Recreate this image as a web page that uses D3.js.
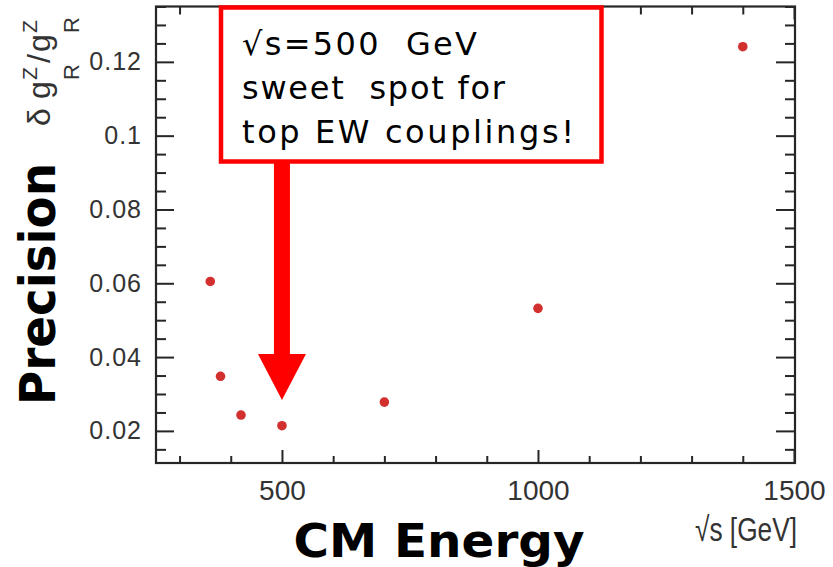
<!DOCTYPE html>
<html>
<head>
<meta charset="utf-8">
<script src="https://cdn.jsdelivr.net/npm/d3@7"></script>
<style>
  body { margin: 0; background: #fff; }
  svg { display: block; }
</style>
</head>
<body>
<div id="viz"></div>
<script>
  // energies in GeV and precision on the right-handed Z coupling
  const energies = [360, 380, 420, 500, 700, 1000, 1400];
  const precision = [0.0605, 0.0348, 0.0243, 0.0214, 0.0278, 0.0532, 0.1241];

  const xTicks = [500, 1000, 1500];
  const xTickLabels = ['500', '1000', '1500'];
  const yTicks = [0.02, 0.04, 0.06, 0.08, 0.1, 0.12];
  const yTickLabels = ['0.02', '0.04', '0.06', '0.08', '0.1', '0.12'];

  const noteLines = ['\u221As=500\u00A0 GeV', 'sweet\u00A0 spot for', 'top EW couplings!'];

  const width = 833, height = 567;
  const frame = { left: 156, right: 795, top: 6.5, bottom: 463 };

  const svg = d3.select('#viz')
    .append('svg')
    .attr('width', width)
    .attr('height', height);

  const x = d3.scaleLinear()
    .domain([254, 1500])
    .range([frame.left, frame.right - 1]);

  const y = d3.scaleLinear()
    .domain([0.0113, 0.135])
    .range([frame.bottom, frame.top]);

  const xMinor = d3.range(300, 1501, 100).filter(v => v % 500 !== 0);
  const yMinor = d3.range(0.015, 0.136, 0.005)
    .filter(v => Math.abs(v / 0.02 - Math.round(v / 0.02)) > 0.01);

  const ink = '#262626';
  const helv = '"Liberation Sans", Arial, sans-serif';

  function styleAxis(g) {
    g.select('.domain').remove();
    g.selectAll('line').attr('stroke', ink).attr('stroke-width', 2);
    g.selectAll('text')
      .attr('fill', '#333')
      .style('font-family', helv);
  }

  // bottom axis
  svg.append('g')
    .attr('transform', `translate(0,${frame.bottom})`)
    .call(d3.axisBottom(x).tickValues(xTicks).tickSizeInner(-13).tickSizeOuter(0).tickPadding(17)
      .tickFormat((d, i) => xTickLabels[i]))
    .call(styleAxis)
    .call(g => g.selectAll('text').style('font-size', '28px'));

  svg.append('g')
    .attr('transform', `translate(0,${frame.bottom})`)
    .call(d3.axisBottom(x).tickValues(xMinor).tickSizeInner(-7).tickSizeOuter(0).tickFormat(''))
    .call(styleAxis);

  // top axis (mirror ticks)
  svg.append('g')
    .attr('transform', `translate(0,${frame.top})`)
    .call(d3.axisTop(x).tickValues(xTicks).tickSizeInner(-13).tickSizeOuter(0).tickFormat(''))
    .call(styleAxis);

  svg.append('g')
    .attr('transform', `translate(0,${frame.top})`)
    .call(d3.axisTop(x).tickValues(xMinor).tickSizeInner(-8).tickSizeOuter(0).tickFormat(''))
    .call(styleAxis);

  // left axis
  svg.append('g')
    .attr('transform', `translate(${frame.left},0)`)
    .call(d3.axisLeft(y).tickValues(yTicks).tickSizeInner(-18).tickSizeOuter(0).tickPadding(14)
      .tickFormat((d, i) => yTickLabels[i]))
    .call(styleAxis)
    .call(g => g.selectAll('text').style('font-size', '25px').style('letter-spacing', '1px'));

  svg.append('g')
    .attr('transform', `translate(${frame.left},0)`)
    .call(d3.axisLeft(y).tickValues(yMinor).tickSizeInner(-10).tickSizeOuter(0).tickFormat(''))
    .call(styleAxis);

  // right axis (mirror ticks)
  svg.append('g')
    .attr('transform', `translate(${frame.right},0)`)
    .call(d3.axisRight(y).tickValues(yTicks).tickSizeInner(-19).tickSizeOuter(0).tickFormat(''))
    .call(styleAxis);

  svg.append('g')
    .attr('transform', `translate(${frame.right},0)`)
    .call(d3.axisRight(y).tickValues(yMinor).tickSizeInner(-10).tickSizeOuter(0).tickFormat(''))
    .call(styleAxis);

  // frame
  svg.append('rect')
    .attr('x', frame.left)
    .attr('y', frame.top)
    .attr('width', frame.right - frame.left)
    .attr('height', frame.bottom - frame.top)
    .attr('fill', 'none')
    .attr('stroke', ink)
    .attr('stroke-width', 2.2);

  // points
  svg.append('g')
    .selectAll('circle')
    .data(energies.map((e, i) => ({ e, p: precision[i] })))
    .join('circle')
    .attr('cx', d => x(d.e))
    .attr('cy', d => y(d.p))
    .attr('r', 4.8)
    .attr('fill', '#d2302f');

  // x axis title (plot)
  svg.append('text')
    .attr('x', 797)
    .attr('y', 541)
    .attr('text-anchor', 'end')
    .attr('textLength', 102)
    .attr('lengthAdjust', 'spacingAndGlyphs')
    .style('font-family', helv)
    .style('font-size', '34px')
    .attr('fill', '#333')
    .text('\u221As [GeV]');

  // y axis title (plot)
  const yt = svg.append('text')
    .attr('transform', 'translate(50,126) rotate(-90)')
    .attr('fill', '#333')
    .style('font-family', helv)
    .style('font-size', '32px');
  yt.append('tspan').attr('x', 0).attr('y', 0).text('\u03B4');
  yt.append('tspan').attr('x', 27).attr('y', 0).text('g');
  yt.append('tspan').attr('x', 46).attr('y', -13).style('font-size', '21px').text('Z');
  yt.append('tspan').attr('x', 46).attr('y', 29).style('font-size', '22px').text('R');
  yt.append('tspan').attr('x', 63).attr('y', 0).text('/');
  yt.append('tspan').attr('x', 74).attr('y', 0).text('g');
  yt.append('tspan').attr('x', 93).attr('y', -13).style('font-size', '21px').text('Z');
  yt.append('tspan').attr('x', 93).attr('y', 29).style('font-size', '22px').text('R');

  // big slide labels
  svg.append('text')
    .attr('x', 439)
    .attr('y', 557)
    .attr('text-anchor', 'middle')
    .style('font-family', '"DejaVu Sans", Verdana, sans-serif')
    .style('font-weight', 'bold')
    .style('font-size', '47px')
    .attr('textLength', 291)
    .attr('lengthAdjust', 'spacingAndGlyphs')
    .attr('fill', '#000')
    .text('CM Energy');

  svg.append('text')
    .attr('transform', 'translate(55,284) rotate(-90)')
    .attr('text-anchor', 'middle')
    .style('font-family', '"DejaVu Sans", Verdana, sans-serif')
    .style('font-weight', 'bold')
    .style('font-size', '49px')
    .attr('textLength', 242)
    .attr('lengthAdjust', 'spacingAndGlyphs')
    .attr('fill', '#000')
    .text('Precision');

  // annotation: arrow to the 500 GeV point
  const ax = x(500);
  svg.append('rect')
    .attr('x', ax - 8)
    .attr('y', 160)
    .attr('width', 16)
    .attr('height', 196)
    .attr('fill', '#ff0000');

  svg.append('path')
    .attr('d', `M${ax - 24},354 L${ax + 24},354 L${ax},400 Z`)
    .attr('fill', '#ff0000');

  svg.append('rect')
    .attr('x', 221)
    .attr('y', 7.5)
    .attr('width', 380.5)
    .attr('height', 154)
    .attr('fill', '#fff')
    .attr('stroke', '#ff0000')
    .attr('stroke-width', 4.5);

  const lineWidths = [235, 263, 332];
  svg.append('g')
    .selectAll('text')
    .data(noteLines)
    .join('text')
    .attr('x', 242)
    .attr('y', (d, i) => 55 + i * 44.2)
    .attr('textLength', (d, i) => lineWidths[i])
    .attr('lengthAdjust', 'spacing')
    .style('font-family', '"DejaVu Sans", Verdana, sans-serif')
    .style('font-size', '32px')
    .attr('fill', '#000')
    .text(d => d);
</script>
</body>
</html>
